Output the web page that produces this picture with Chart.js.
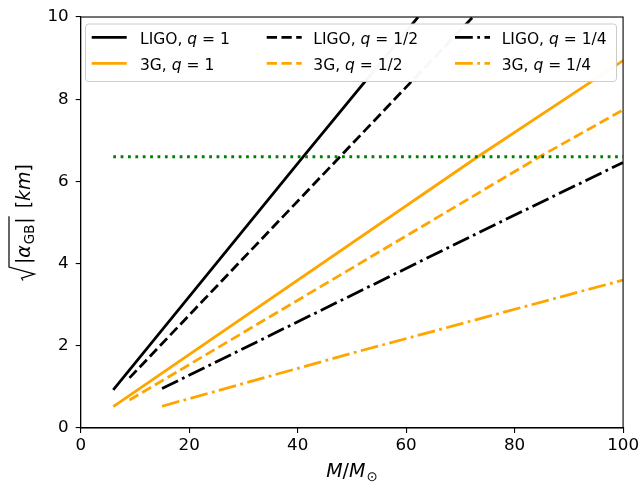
<!DOCTYPE html>
<html lang="en">
<head>
<meta charset="UTF-8">
<title>GB coupling bound</title>
<script src="https://cdn.jsdelivr.net/npm/chart.js"></script>
<style>
    body { margin: 0; background: #fff; }
    #wrap { width: 642px; height: 483px; }
</style>
</head>
<body>
<div id="wrap"><canvas id="myChart"></canvas></div>
<script>
    // values (x = M/Msun, y = sqrt|alpha_GB| in km)
    const ligoQ1M = [6, 41, 62.2];
    const ligoQ1Y = [0.93, 6.6, 10];
    const ligoQ2M = [9, 47.8, 72.3];
    const ligoQ2Y = [1.22, 6.6, 10];
    const ligoQ4M = [15, 77.2, 100];
    const ligoQ4Y = [0.96, 5.0, 6.46];
    const g3Q1M = [6, 73.2, 100];
    const g3Q1Y = [0.52, 6.6, 8.94];
    const g3Q2M = [9, 84.6, 100];
    const g3Q2Y = [0.68, 6.6, 7.74];
    const g3Q4M = [15, 51.4, 100];
    const g3Q4Y = [0.53, 1.87, 3.60];
    const boundM = [6, 100];
    const boundY = [6.6, 6.6];

    const detectors = ['LIGO', '3G'];
    const qLabels = ['1', '1/2', '1/4'];
    const xTicks = [0, 20, 40, 60, 80, 100];
    const yTicks = [0, 2, 4, 6, 8, 10];

    const ORANGE = '#ffa500';
    const LW = 2.78;
    const dashes = [[], [10.3, 4.45], [17.8, 4.45, 2.78, 4.45]];
    const FONT = "'DejaVu Sans', sans-serif";

    function pts(xs, ys) {
        return xs.map((x, i) => ({ x: x, y: ys[i] }));
    }

    const series = [
        [ligoQ1M, ligoQ1Y, 0, 0], [ligoQ2M, ligoQ2Y, 0, 1], [ligoQ4M, ligoQ4Y, 0, 2],
        [g3Q1M, g3Q1Y, 1, 0], [g3Q2M, g3Q2Y, 1, 1], [g3Q4M, g3Q4Y, 1, 2]
    ];

    const datasets = series.map(s => ({
        label: detectors[s[2]] + ', q = ' + qLabels[s[3]],
        data: pts(s[0], s[1]),
        borderColor: s[2] === 0 ? '#000' : ORANGE,
        borderWidth: LW,
        borderDash: dashes[s[3]],
        det: s[2], qi: s[3]
    }));
    datasets.unshift({
        label: 'bound',
        data: pts(boundM, boundY),
        borderColor: 'green',
        borderWidth: LW,
        borderDash: [2.78, 4.6]
    });

    // draw a run of text pieces, returns width
    function rich(ctx, x, y, parts, measureOnly) {
        let cx = x;
        parts.forEach(p => {
            ctx.font = (p.italic ? 'italic ' : '') + p.size + 'px ' + FONT;
            if (!measureOnly) ctx.fillText(p.t, cx, y + (p.dy || 0));
            cx += ctx.measureText(p.t).width + (p.after || 0);
        });
        return cx - x;
    }

    const decor = {
        id: 'decor',
        afterDraw(chart) {
            const ctx = chart.ctx;
            const a = chart.chartArea;
            ctx.save();
            // top and right spines
            ctx.strokeStyle = '#000';
            ctx.lineWidth = 1.1;
            ctx.strokeRect(a.left, a.top, a.right - a.left, a.bottom - a.top);

            // legend
            ctx.beginPath();
            ctx.roundRect(85.5, 24, 531, 57.5, 3);
            ctx.fillStyle = 'rgba(255,255,255,0.97)';
            ctx.fill();
            ctx.strokeStyle = '#cccccc';
            ctx.lineWidth = 1;
            ctx.stroke();
            const colSample = [91.7, 266.7, 455];
            const colText = [140, 313.3, 501.7];
            const rowLine = [37.3, 63.3];
            const rowBase = [44, 70];
            chart.data.datasets.forEach(ds => {
                if (ds.det === undefined) return;
                const c = ds.qi, r = ds.det;
                ctx.beginPath();
                ctx.setLineDash(ds.borderDash);
                ctx.strokeStyle = ds.borderColor;
                ctx.lineWidth = LW;
                ctx.moveTo(colSample[c], rowLine[r]);
                ctx.lineTo(colSample[c] + 35, rowLine[r]);
                ctx.stroke();
                ctx.setLineDash([]);
                ctx.fillStyle = '#000';
                ctx.textBaseline = 'alphabetic';
                rich(ctx, colText[c], rowBase[r], [
                    { t: detectors[r] + ', ', size: 15.5 },
                    { t: 'q', size: 15.5, italic: true },
                    { t: ' = ' + qLabels[c], size: 15.5 }
                ]);
            });

            // x label  M/M_sun
            ctx.fillStyle = '#000';
            const xl = [
                { t: 'M', size: 19, italic: true },
                { t: '/', size: 19 },
                { t: 'M', size: 19, italic: true, after: 1 },
                { t: '\u2299', size: 13.3, dy: 4 }
            ];
            const xw = rich(ctx, 0, 0, xl, true);
            rich(ctx, (a.left + a.right) / 2 - xw / 2, 476.5, xl);

            // y label  sqrt(|alpha_GB|) [km], rotated
            ctx.translate(30, (a.top + a.bottom) / 2);
            ctx.rotate(-Math.PI / 2);
            const inner = [
                { t: '|', size: 19 },
                { t: '\u03b1', size: 19, italic: true, after: 1 },
                { t: 'GB', size: 13.3, dy: 4, after: 1 },
                { t: '|', size: 19 }
            ];
            const tail = [
                { t: '[', size: 19 },
                { t: 'km', size: 19, italic: true },
                { t: ']', size: 19 }
            ];
            const rw = 15, gap = 9;
            const iw = rich(ctx, 0, 0, inner, true);
            const tw = rich(ctx, 0, 0, tail, true);
            const total = rw + 2 + iw + gap + tw;
            let u = -total / 2;
            ctx.beginPath();
            ctx.lineWidth = 1.2;
            ctx.strokeStyle = '#000';
            ctx.moveTo(u + 0.5, -7);
            ctx.lineTo(u + 3, -8.5);
            ctx.lineTo(u + 7, 4.5);
            ctx.lineTo(u + rw - 1, -21);
            ctx.lineTo(u + rw + 2 + iw + 1, -21);
            ctx.stroke();
            rich(ctx, u + rw + 2, 0, inner);
            rich(ctx, u + rw + 2 + iw + gap, 0, tail);
            ctx.restore();
        }
    };

    new Chart(document.getElementById('myChart').getContext('2d'), {
        type: 'scatter',
        data: { datasets: datasets },
        options: {
            responsive: true,
            maintainAspectRatio: false,
            animation: false,
            showLine: true,
            elements: { point: { radius: 0, hoverRadius: 0 }, line: { tension: 0 } },
            layout: { padding: { left: 0, top: 15.5, right: 18.3, bottom: 0 } },
            plugins: { legend: { display: false }, tooltip: { enabled: false } },
            scales: {
                x: {
                    type: 'linear', min: 0, max: 100,
                    afterFit: s => { s.height = 55; },
                    afterBuildTicks: s => { s.ticks = xTicks.map(v => ({ value: v })); },
                    grid: { drawOnChartArea: false, tickLength: 5, color: '#000', lineWidth: 1.1 },
                    border: { display: true, color: '#000', width: 1.1 },
                    ticks: { color: '#000', padding: 3, font: { family: FONT, size: 16.7 } }
                },
                y: {
                    type: 'linear', min: 0, max: 10,
                    afterFit: s => { s.width = 80.7; },
                    afterBuildTicks: s => { s.ticks = yTicks.map(v => ({ value: v })); },
                    grid: { drawOnChartArea: false, tickLength: 5, color: '#000', lineWidth: 1.1 },
                    border: { display: true, color: '#000', width: 1.1 },
                    ticks: { color: '#000', padding: 7, font: { family: FONT, size: 16.7 } }
                }
            }
        },
        plugins: [decor]
    });
</script>
</body>
</html>
